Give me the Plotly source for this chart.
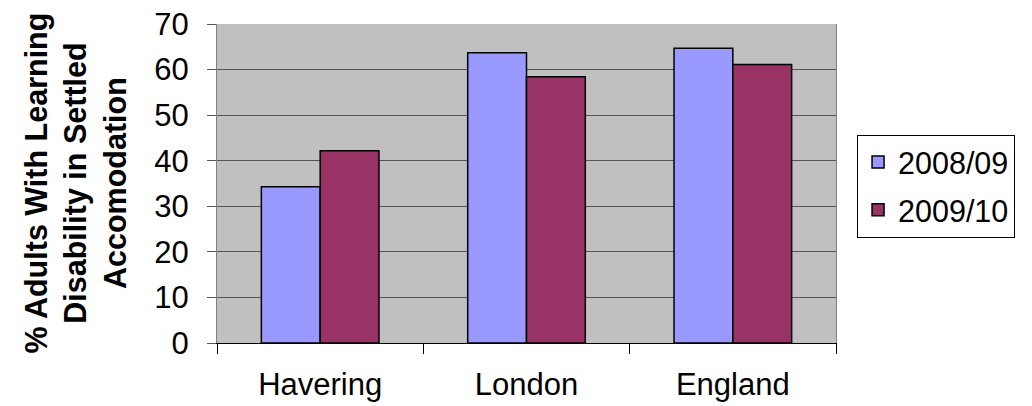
import plotly.graph_objects as go

areas = ["Havering", "London", "England"]
year_0809 = [34.3, 63.7, 64.7]
year_0910 = [42.2, 58.4, 61.1]
y_ticks = [0, 10, 20, 30, 40, 50, 60, 70]

FONT = "Liberation Sans, Arial, sans-serif"

fig = go.Figure()
fig.add_trace(go.Bar(
    x=areas, y=year_0809, name="2008/09", legendgroup="a",
    marker={"color": "#9999FF", "line": {"color": "#000000", "width": 1.5}},
))
fig.add_trace(go.Bar(
    x=areas, y=year_0910, name="2009/10", legendgroup="b",
    marker={"color": "#993366", "line": {"color": "#000000", "width": 1.5}},
))

# page body has an 8px margin, so the figure is 8px smaller than the window
fig.update_layout(
    width=1024,
    height=398,
    margin={"l": 209, "r": 196, "t": 16, "b": 63, "autoexpand": False},
    paper_bgcolor="white",
    plot_bgcolor="#C0C0C0",
    barmode="group",
    bargap=0.43,
    bargroupgap=0,
    font={"family": FONT, "size": 31, "color": "#000000"},
    legend={
        "x": 1.034, "y": 0.653, "xanchor": "left", "yanchor": "top",
        "bordercolor": "#000000", "borderwidth": 1, "bgcolor": "white",
        "font": {"size": 30.5}, "tracegroupgap": 5, "itemwidth": 30,
    },
    showlegend=True,
)

fig.update_xaxes(
    type="category",
    tickson="boundaries",
    ticks="outside",
    ticklen=10,
    tickcolor="#000000",
    showgrid=False,
    showline=True,
    linecolor="#000000",
    linewidth=1,
    ticklabelstandoff=14,
    automargin=False,
)
fig.update_yaxes(
    range=[0, 70],
    tickvals=y_ticks,
    ticks="outside",
    ticklen=9,
    tickcolor="#555555",
    showgrid=True,
    gridcolor="#555555",
    gridwidth=1,
    showline=True,
    linecolor="#808080",
    mirror=True,
    zeroline=False,
    ticklabelstandoff=12,
    ticklabeloverflow="allow",
    automargin=False,
)

fig.add_annotation(
    text="<b>% Adults With Learning<br>Disability in Settled<br>Accomodation</b>",
    xref="paper", yref="paper",
    x=(75 - 217) / 619, y=0.5,
    xanchor="center", yanchor="middle",
    textangle=-90,
    showarrow=False,
    font={"size": 30.5, "family": FONT},
)

fig.write_html("out.html")
